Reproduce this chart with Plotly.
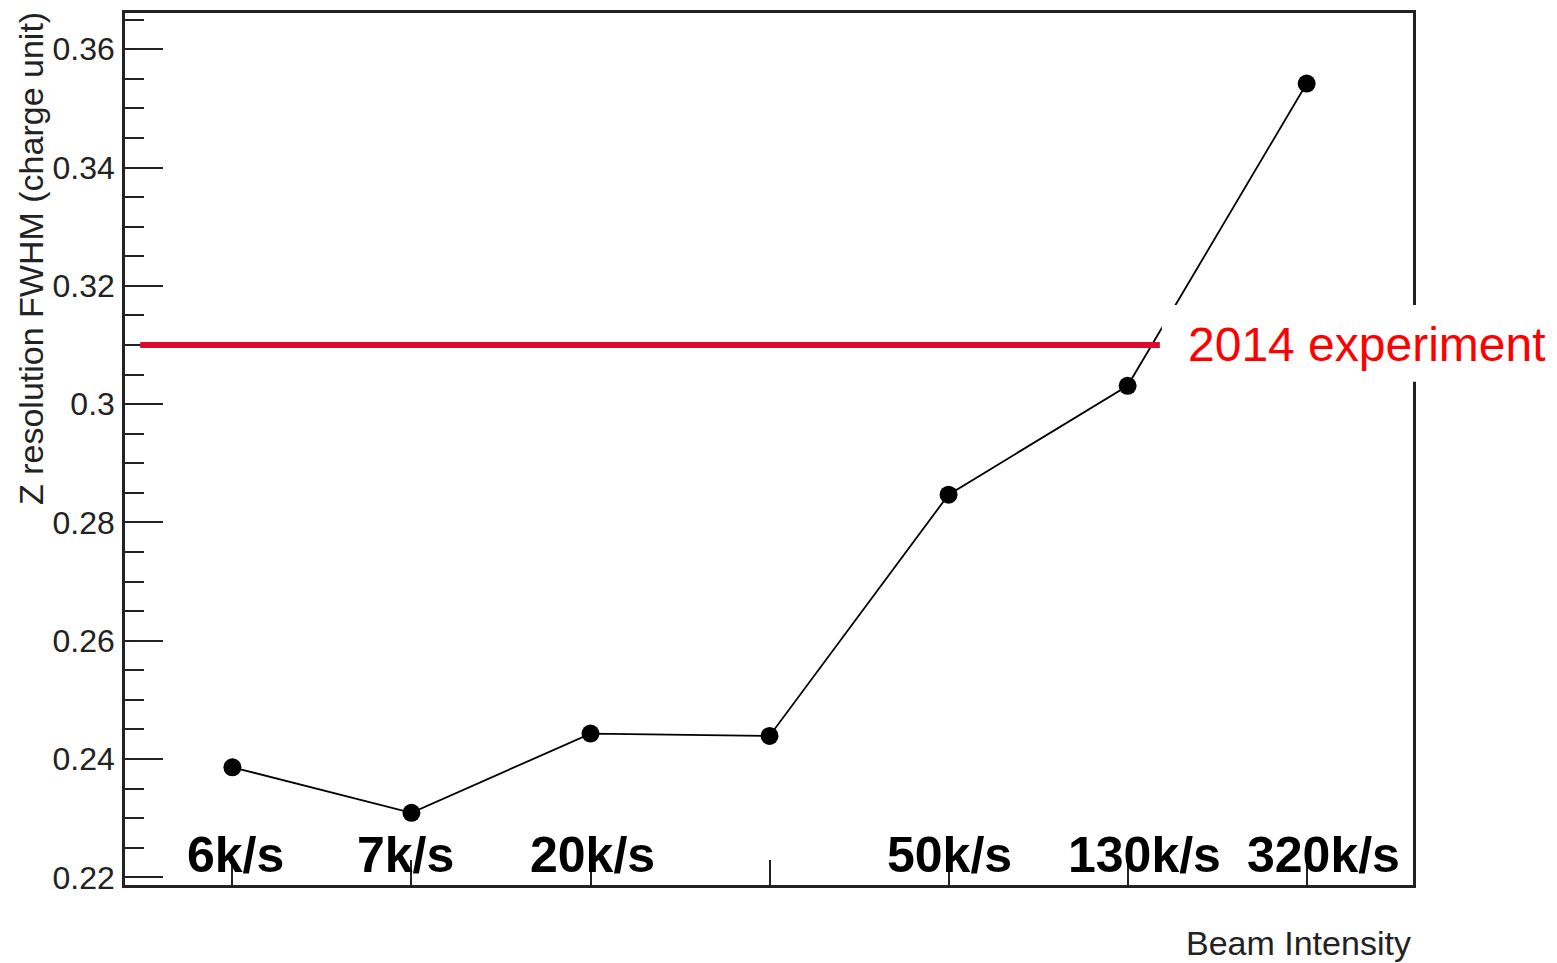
import plotly.graph_objects as go

# Beam intensity settings and measured Z resolution (FWHM, charge units)
positions = [1, 2, 3, 4, 5, 6, 7]
intensity_labels = ["6k/s", "7k/s", "20k/s", "", "50k/s", "130k/s", "320k/s"]
z_resolution = [0.2386, 0.2309, 0.2443, 0.2439, 0.2847, 0.3031, 0.3542]

# Reference resolution from the 2014 experiment
experiment_2014 = 0.31
experiment_label = "2014 experiment"

FONT = "Liberation Sans, Arial, Helvetica, sans-serif"
label_shift = [3, -6, 2, 0, 1, 17, 17]

fig = go.Figure()

fig.add_trace(go.Scatter(
    x=positions, y=z_resolution,
    mode="lines+markers",
    line=dict(color="black", width=1.8),
    marker=dict(color="black", size=18),
    showlegend=False,
    hoverinfo="skip",
))

# horizontal reference line
fig.add_shape(type="line", xref="x", yref="y",
              x0=0.485, x1=6.18, y0=experiment_2014, y1=experiment_2014,
              line=dict(color="#DC0A2E", width=6), layer="above")

# white patch behind the reference label
fig.add_shape(type="rect", xref="paper", yref="paper",
              x0=0.805, x1=1.115, y0=0.577, y1=0.665,
              fillcolor="white", line=dict(width=0), layer="above")

annotations = []
for p, lab, dx in zip(positions, intensity_labels, label_shift):
    if not lab:
        continue
    annotations.append(dict(
        x=p, xref="x", y=0, yref="paper", yanchor="bottom", xanchor="center",
        xshift=dx, yshift=0, text=f"<b>{lab}</b>", showarrow=False,
        font=dict(family=FONT, size=50, color="black"),
    ))

annotations.append(dict(
    x=0.8235, xref="paper", y=experiment_2014, yref="y",
    xanchor="left", yanchor="middle", text=experiment_label, showarrow=False,
    font=dict(family=FONT, size=48, color="#FF0000"),
))

annotations.append(dict(
    x=-0.073, xref="paper", y=1.004, yref="paper", xanchor="center", yanchor="top",
    text="Z resolution FWHM (charge unit)", textangle=-90, showarrow=False,
    font=dict(family=FONT, size=34, color="#222222"),
))

annotations.append(dict(
    x=1.0, xref="paper", y=0, yref="paper", xanchor="right", yanchor="top",
    yshift=-37, text="Beam Intensity", showarrow=False,
    font=dict(family=FONT, size=34, color="#222222"),
))

fig.update_layout(
    width=1557, height=963,
    margin=dict(l=125, r=144, t=10, b=78),
    paper_bgcolor="white", plot_bgcolor="white",
    annotations=annotations,
    xaxis=dict(
        range=[0.40, 7.594], tickvals=positions, showticklabels=False,
        ticks="inside", ticklen=25, tickwidth=1.5, tickcolor="#222222",
        showgrid=False, zeroline=False,
        showline=True, linecolor="#222222", linewidth=2.5, mirror=True,
    ),
    yaxis=dict(
        range=[0.2187, 0.36613], tickvals=[0.22, 0.24, 0.26, 0.28, 0.3, 0.32, 0.34, 0.36],
        ticktext=["0.22", "0.24", "0.26", "0.28", "0.3", "0.32", "0.34", "0.36"],
        ticks="inside", ticklen=38, tickwidth=2, tickcolor="#222222",
        minor=dict(ticks="inside", ticklen=19, tickwidth=2, tickcolor="#222222", dtick=0.005, tick0=0.22),
        tickfont=dict(family=FONT, size=32, color="#222222"),
        ticklabelstandoff=1,
        showgrid=False, zeroline=False,
        showline=True, linecolor="#222222", linewidth=2.5, mirror=True,
    ),
)

fig.write_html("out.html")
